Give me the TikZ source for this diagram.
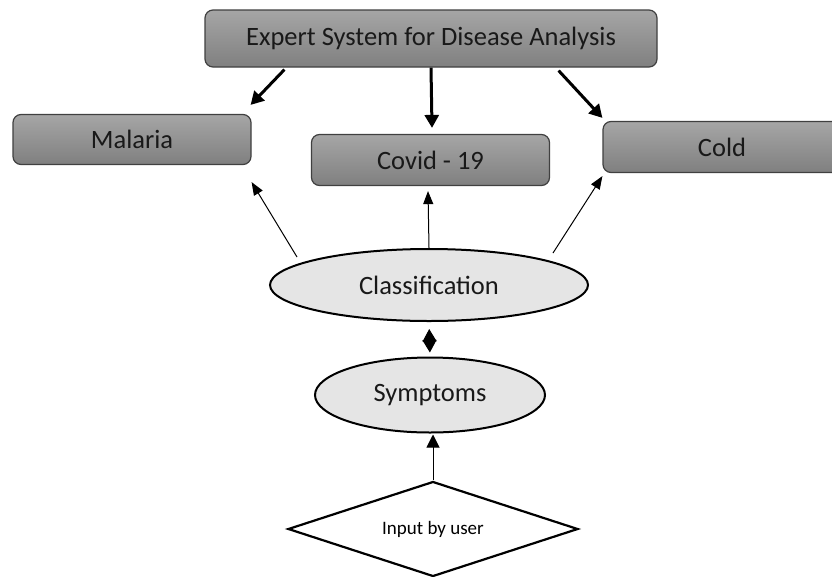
\documentclass[tikz,border=0pt]{standalone}
\usepackage{fontspec}
\setmainfont{Carlito}
\usetikzlibrary{shapes.geometric,arrows.meta,calc}
\begin{document}
\begin{tikzpicture}[x=1pt,y=-1pt,
  gbox/.style={draw=black!75,line width=1.2pt,rounded corners=8pt,top color=black!35,bottom color=black!50,
    minimum width=238pt,minimum height=50pt,inner sep=0pt,font=\fontsize{26.5}{31}\selectfont,text=black!90},
  oval/.style={ellipse,draw=black,line width=2pt,fill=black!10,inner sep=0pt,font=\fontsize{26.5}{31}\selectfont,text=black!90},
  thickarr/.style={line width=3pt,-{Triangle[length=13pt,width=14pt]}},
  thinarr/.style={line width=1pt,-{Triangle[length=13pt,width=10pt]}}]
\clip (0,0) rectangle (832,576);
\fill[white] (0,0) rectangle (832,576);
\node[gbox,minimum width=452pt,minimum height=57pt] (top) at (431,38.5) {Expert System for Disease Analysis};
\node[gbox] (mal) at (132,139.5) {Malaria};
\node[gbox,minimum height=51pt] (cov) at (430.5,160) {Covid - 19};
\node[gbox,minimum height=51pt] (cold) at (722,147) {Cold};
\node[oval,minimum width=318pt,minimum height=72pt] (cls) at (429,285) {Classification};
\node[oval,minimum width=230pt,minimum height=75pt] (sym) at (430,395) {Symptoms};
\node[diamond,aspect=3.05,draw=black,line width=2.2pt,fill=white,minimum width=290pt,minimum height=95pt,inner sep=0pt,
  font=\fontsize{19}{23}\selectfont] (inp) at (433,529) {Input by user};
% thick arrows from the top box
\draw[thickarr] ($(top.south west)+(80,2)$) -- ($(mal.north east)+(-1,-9)$);
\draw[thickarr] (top.south) -- ($(cov.north)+(1.5,-6)$);
\draw[thickarr] ($(top.south east)+(-99,3)$) -- ($(cold.north west)+(0,-3)$);
% thin arrows from classification
\draw[thinarr] ($(cls.center)+(-132,-28)$) -- ($(mal.south east)+(0,17)$);
\draw[thinarr] (cls.north) -- ($(cov.south)+(-2.5,5)$);
\draw[thinarr] ($(cls.center)+(124,-32)$) -- ($(cold.south west)+(0,3)$);
% two-headed link
\draw[line width=1pt,{Triangle[length=12.5pt,width=14pt]}-{Triangle[length=12.5pt,width=14pt]},shorten <=7pt,shorten >=4pt] (cls.south) -- (sym.north);
% input arrow
\draw[line width=1pt,-{Triangle[length=13pt,width=13pt]}] (inp.north) -- ($(sym.south)+(3,1)$);
\end{tikzpicture}
\end{document}
